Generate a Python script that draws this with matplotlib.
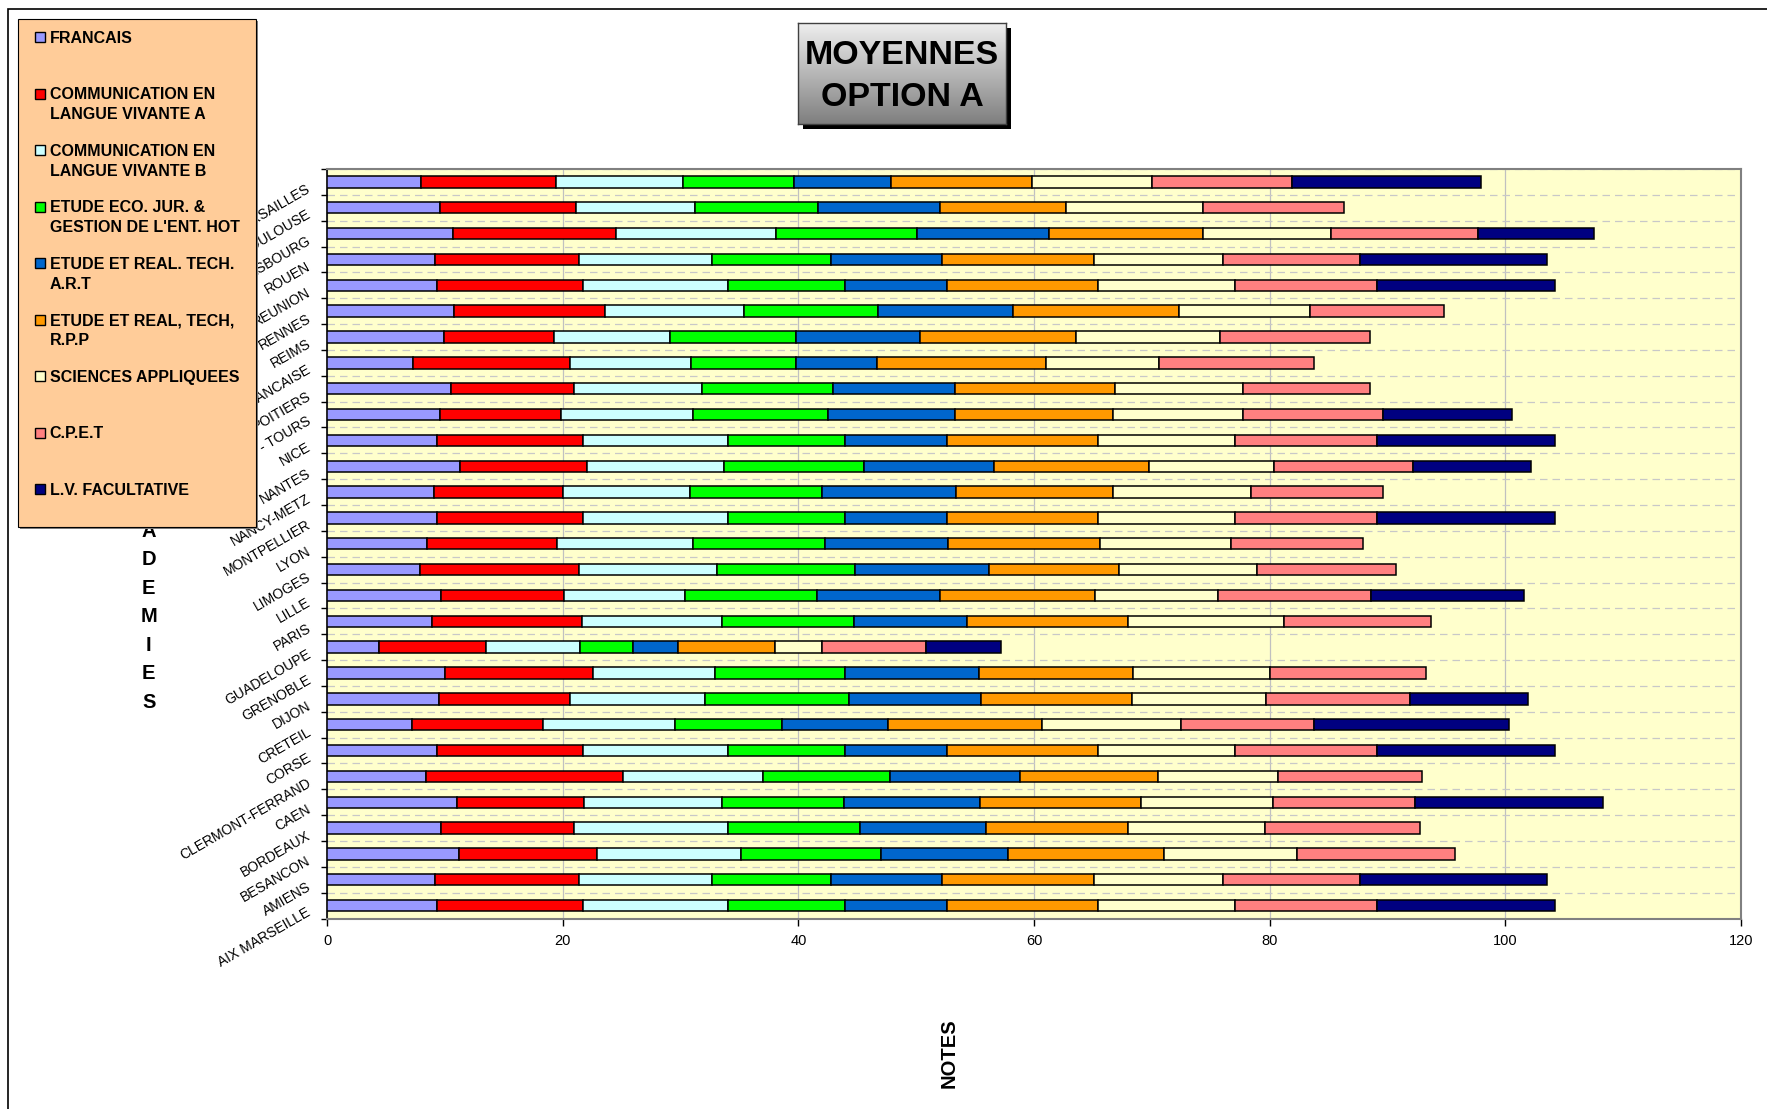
import numpy as np
import matplotlib
matplotlib.use('Agg')
import matplotlib.pyplot as plt
from matplotlib.patches import Rectangle

plt.rcParams['font.family'] = ['Liberation Sans', 'DejaVu Sans']

# ---------------- data (bottom to top, as drawn) ----------------
academies = ["AIX MARSEILLE", "AMIENS", "BESANCON", "BORDEAUX", "CAEN",
             "CLERMONT-FERRAND", "CORSE", "CRETEIL", "DIJON", "GRENOBLE",
             "GUADELOUPE", "PARIS", "LILLE", "LIMOGES", "LYON", "MONTPELLIER",
             "NANCY-METZ", "NANTES", "NICE", "ORLEANS - TOURS", "POITIERS",
             "POLYNESIE FRANCAISE", "REIMS", "RENNES", "REUNION", "ROUEN",
             "STRASBOURG", "TOULOUSE", "VERSAILLES"]

series_names = ["FRANCAIS",
                "COMMUNICATION EN\nLANGUE VIVANTE A",
                "COMMUNICATION EN\nLANGUE VIVANTE B",
                "ETUDE ECO. JUR. &\nGESTION DE L'ENT. HOT",
                "ETUDE ET REAL. TECH.\nA.R.T",
                "ETUDE ET REAL, TECH,\nR.P.P",
                "SCIENCES APPLIQUEES",
                "C.P.E.T",
                "L.V. FACULTATIVE"]

francais = [9.3, 9.2, 11.2, 9.7, 11.0, 8.4, 9.3, 7.2, 9.5, 10.0, 4.4, 8.9, 9.7, 7.9, 8.5,
            9.3, 9.1, 11.3, 9.3, 9.6, 10.5, 7.3, 9.9, 10.8, 9.3, 9.2, 10.7, 9.6, 8.0]
lv_a = [12.4, 12.2, 11.7, 11.3, 10.8, 16.7, 12.4, 11.1, 11.1, 12.6, 9.1, 12.7, 10.4, 13.5, 11.0,
        12.4, 10.9, 10.8, 12.4, 10.3, 10.5, 13.3, 9.4, 12.8, 12.4, 12.2, 13.8, 11.5, 11.4]
lv_b = [12.3, 11.3, 12.2, 13.0, 11.7, 11.9, 12.3, 11.2, 11.5, 10.3, 8.0, 11.9, 10.3, 11.7, 11.6,
        12.3, 10.8, 11.6, 12.3, 11.2, 10.8, 10.3, 9.8, 11.8, 12.3, 11.3, 13.6, 10.1, 10.8]
eco_jur = [10.0, 10.1, 11.9, 11.2, 10.4, 10.8, 10.0, 9.1, 12.2, 11.1, 4.5, 11.2, 11.2, 11.7, 11.2,
           10.0, 11.2, 11.9, 10.0, 11.4, 11.1, 8.9, 10.7, 11.4, 10.0, 10.1, 12.0, 10.5, 9.4]
tech_art = [8.6, 9.4, 10.8, 10.7, 11.5, 11.0, 8.6, 9.0, 11.2, 11.3, 3.8, 9.6, 10.4, 11.4, 10.4,
            8.6, 11.4, 11.0, 8.6, 10.8, 10.4, 6.9, 10.5, 11.4, 8.6, 9.4, 11.2, 10.3, 8.3]
tech_rpp = [12.8, 12.9, 13.2, 12.1, 13.7, 11.7, 12.8, 13.1, 12.8, 13.1, 8.2, 13.7, 13.2, 11.0, 12.9,
            12.8, 13.3, 13.2, 12.8, 13.4, 13.6, 14.3, 13.3, 14.1, 12.8, 12.9, 13.0, 10.7, 11.9]
sciences = [11.7, 10.9, 11.3, 11.6, 11.2, 10.2, 11.7, 11.8, 11.4, 11.6, 4.0, 13.2, 10.4, 11.7, 11.1,
            11.7, 11.7, 10.6, 11.7, 11.0, 10.8, 9.6, 12.2, 11.1, 11.7, 10.9, 10.9, 11.6, 10.2]
cpet = [12.0, 11.7, 13.4, 13.2, 12.0, 12.2, 12.0, 11.3, 12.2, 13.3, 8.8, 12.5, 13.0, 11.8, 11.2,
        12.0, 11.2, 11.8, 12.0, 11.9, 10.8, 13.2, 12.7, 11.4, 12.0, 11.7, 12.5, 12.0, 11.9]
lv_fac = [15.1, 15.8, 0, 0, 16.0, 0, 15.1, 16.5, 10.0, 0, 6.4, 0, 13.0, 0, 0,
          15.1, 0, 10.0, 15.1, 11.0, 0, 0, 0, 0, 15.1, 15.8, 9.8, 0, 16.0]

series_values = [francais, lv_a, lv_b, eco_jur, tech_art, tech_rpp, sciences, cpet, lv_fac]
colors = ['#9999FF', '#FF0000', '#CCFFFF', '#00FF00', '#0066CC',
          '#FF9900', '#FFFFCC', '#FF8080', '#000080']
xticks = [0, 20, 40, 60, 80, 100, 120]

# ---------------- figure ----------------
W, H = 1767, 1109
fig = plt.figure(figsize=(W / 100, H / 100), dpi=100)
fig.patch.set_facecolor('white')


def fx(px):
    return px / W


def fy(py):
    return 1 - py / H


# outer chart border (left and top visible)
fig.patches.append(Rectangle((fx(8), -0.2), 1.5, fy(9) + 0.2, transform=fig.transFigure,
                             facecolor='none', edgecolor='black', lw=1.2, zorder=0))

# ---------------- plot area ----------------
ax = fig.add_axes([fx(327), fy(918.5), fx(1741) - fx(327), fy(169) - fy(918.5)])
ax.set_facecolor('#FFFFCC')
n = len(academies)
y = np.arange(n)
left = np.zeros(n)
for vals, col in zip(series_values, colors):
    v = np.array(vals, dtype=float)
    m = v > 0
    ax.barh(y[m], v[m], left=left[m], height=0.44, color=col,
            edgecolor='black', linewidth=1.1, zorder=3)
    left += v

ax.set_xlim(0, 120)
ax.set_ylim(-0.5, n - 0.5)
ax.set_xticks(xticks)
ax.set_xticklabels([str(t) for t in xticks], fontsize=10.5)
ax.set_yticks(y)
ax.set_yticklabels(academies, fontsize=10, rotation=30, ha='right', va='top',
                   rotation_mode='anchor')
ax.set_yticks(np.arange(-0.5, n, 1.0), minor=True)
ax.tick_params(axis='y', which='major', length=0, pad=15)
ax.tick_params(axis='y', which='minor', length=4, width=1, direction='out', color='black')
ax.tick_params(axis='x', which='major', length=5, width=1, direction='out', color='black', pad=6)
ax.grid(axis='x', which='major', color='#C0C0C0', lw=0.9)
ax.grid(axis='y', which='minor', color='#C8C8C8', lw=0.9, linestyle=(0, (6, 4)))
ax.set_axisbelow(True)
ax.spines['left'].set_color('black')
ax.spines['left'].set_linewidth(1.2)
for s in ['top', 'right', 'bottom']:
    ax.spines[s].set_color('#808080')
    ax.spines[s].set_linewidth(1.5)

# axis titles
fig.text(fx(949), fy(1053), 'NOTES', rotation=90, fontsize=14.5, fontweight='bold',
         ha='center', va='center')
for i, ch in enumerate("ACADEMIES"):
    fig.text(fx(148.8), fy(472.7 + 28.5 * i + 7.2), ch, fontsize=14.5, fontweight='bold',
             ha='center', va='baseline', zorder=1)

# ---------------- legend ----------------
LX0, LX1, LY0, LY1 = 18, 256, 19, 527
fig.patches.append(Rectangle((fx(LX0 + 2), fy(LY1 + 2)), fx(LX1) - fx(LX0), fy(LY0) - fy(LY1),
                             transform=fig.transFigure, facecolor='#808080',
                             edgecolor='none', zorder=4))
fig.patches.append(Rectangle((fx(LX0), fy(LY1)), fx(LX1) - fx(LX0), fy(LY0) - fy(LY1),
                             transform=fig.transFigure, facecolor='#FFCC99',
                             edgecolor='black', lw=0.8, zorder=5))
for k, (name, col) in enumerate(zip(series_names, colors)):
    yc = 37.2 + 56.5 * k
    nlines = name.count('\n') + 1
    fig.patches.append(Rectangle((fx(35), fy(yc + 5.0)), fx(10), 10 / H,
                                 transform=fig.transFigure, facecolor=col,
                                 edgecolor='black', lw=1.0, zorder=6))
    fig.text(fx(49.5), fy(yc + 5.7 + 19.7 * (nlines - 1)), name, fontsize=11.5,
             fontweight='bold', ha='left', va='baseline', linespacing=1.39, zorder=7)

# ---------------- title box ----------------
fig.patches.append(Rectangle((fx(803), fy(129)), fx(1006) - fx(798), fy(23) - fy(124),
                             transform=fig.transFigure, facecolor='black',
                             edgecolor='none', zorder=4))
tax = fig.add_axes([fx(798), fy(124), fx(1006) - fx(798), fy(23) - fy(124)], zorder=5)
grad = np.linspace(0.93, 0.50, 100).reshape(-1, 1)
tax.imshow(np.repeat(grad, 2, axis=1), cmap='gray', vmin=0, vmax=1, aspect='auto',
           extent=[0, 1, 0, 1])
tax.set_xticks([])
tax.set_yticks([])
for s in tax.spines.values():
    s.set_color('#404040')
    s.set_linewidth(1.0)
fig.text(fx(902), fy(64), 'MOYENNES', fontsize=24.5, fontweight='bold',
         ha='center', va='baseline', zorder=10)
fig.text(fx(902), fy(105.7), 'OPTION A', fontsize=24.5, fontweight='bold',
         ha='center', va='baseline', zorder=10)

fig.savefig('out.png', dpi=100)
